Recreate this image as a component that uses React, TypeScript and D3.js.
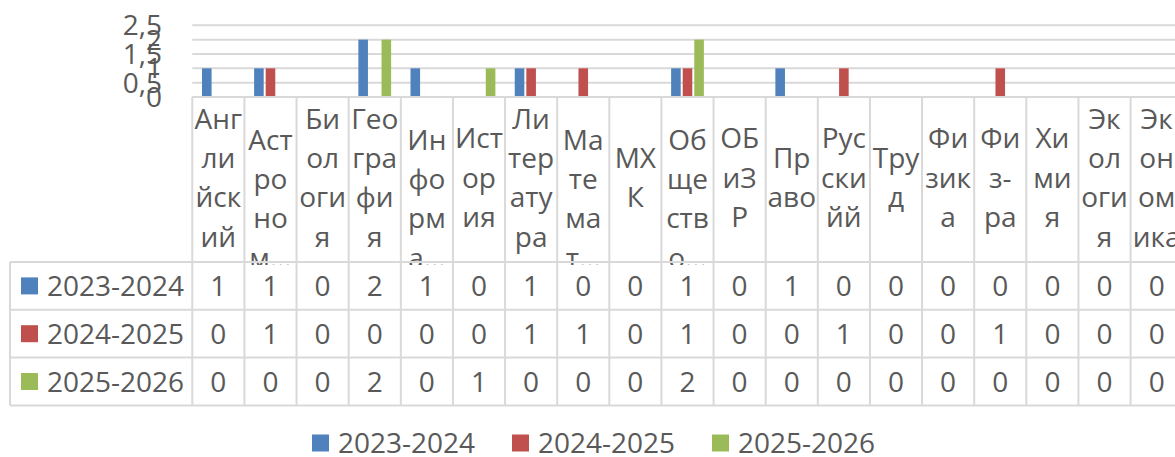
import React from "react";
import * as d3 from "d3";

const categories = [
  "Английский", "Астрономия", "Биология", "География", "Информатика", "История",
  "Литература", "Математика", "МХК", "Обществознание", "ОБиЗР", "Право",
  "Русский", "Труд", "Физика", "Физ-ра", "Химия", "Экология", "Экономика",
];
// label lines as displayed (wrapped / truncated like the reference)
const categoryLines = [
  ["Анг", "ли", "йск", "ий"],
  ["Аст", "ро", "но", "м…"],
  ["Би", "ол", "оги", "я"],
  ["Гео", "гра", "фи", "я"],
  ["Ин", "фо", "рм", "а…"],
  ["Ист", "ор", "ия"],
  ["Ли", "тер", "ату", "ра"],
  ["Ма", "те", "ма", "т…"],
  ["МХ", "К"],
  ["Об", "ще", "ств", "о…"],
  ["ОБ", "иЗ", "Р"],
  ["Пр", "аво"],
  ["Рус", "ски", "йй"],
  ["Тру", "д"],
  ["Фи", "зик", "а"],
  ["Фи", "з-", "ра"],
  ["Хи", "ми", "я"],
  ["Эк", "ол", "оги", "я"],
  ["Эк", "он", "ом", "ика"],
];
const seriesNames = ["2023-2024", "2024-2025", "2025-2026"];
const values2023 = [1, 1, 0, 2, 1, 0, 1, 0, 0, 1, 0, 1, 0, 0, 0, 0, 0, 0, 0];
const values2024 = [0, 1, 0, 0, 0, 0, 1, 1, 0, 1, 0, 0, 1, 0, 0, 1, 0, 0, 0];
const values2025 = [0, 0, 0, 2, 0, 1, 0, 0, 0, 2, 0, 0, 0, 0, 0, 0, 0, 0, 0];
const yTicks = [0, 0.5, 1, 1.5, 2, 2.5];
const colors = ["#4F81BD", "#C0504D", "#9BBB59"];

const seriesValues = [values2023, values2024, values2025];

const W = 1175;
const H = 457;
const FONT = "'Open Sans', sans-serif";
const FS = 28;
const TXT = "#595959";
const GRID = "#d9d9d9";

export default function App() {
  const plotLeft = 192.3;
  const plotRight = 1182.7;
  const axisY = 97;
  const topY = 25.3;
  const tableTop = 262;
  const rowH = 47.8;
  const tableLeft = 10;
  const tableBottom = tableTop + rowH * 3;

  const x0 = d3.scaleBand<string>().domain(categories).range([plotLeft, plotRight]).padding(0);
  const bw = x0.bandwidth();
  const x1 = d3.scaleBand<string>().domain(seriesNames).range([0, bw]).paddingInner(0).paddingOuter(0.75);
  const y = d3.scaleLinear().domain([0, 2.5]).range([axisY, topY]);

  const fmt = (v: number) => String(v).replace(".", ",");
  const lineH = 39.3;
  const headerMid = 177.5;

  return (
    <svg width={W} height={H} style={{ position: "absolute", left: 0, top: 0 }} fontFamily={FONT}>
      <defs>
        <clipPath id="hdrclip">
          <rect x={plotLeft} y={axisY} width={plotRight - plotLeft} height={tableTop + 3 - axisY} />
        </clipPath>
      </defs>
      <rect width={W} height={H} fill="#fff" />
      {/* gridlines */}
      {yTicks.map((t) => (
        <line key={"g" + t} x1={plotLeft} x2={plotRight} y1={y(t)} y2={y(t)} stroke={GRID} strokeWidth={2} />
      ))}
      {/* y tick labels */}
      {yTicks.map((t) => (
        <text key={"yl" + t} x={162} y={y(t)} dy="0.36em" textAnchor="end" fontSize={FS} fill={TXT}>
          {fmt(t)}
        </text>
      ))}
      {/* bars */}
      {seriesValues.map((vals, si) =>
        vals.map((v, ci) =>
          v > 0 ? (
            <rect
              key={`b${si}-${ci}`}
              x={(x0(categories[ci]) as number) + (x1(seriesNames[si]) as number) + 1}
              y={y(v)}
              width={x1.bandwidth() - 2}
              height={y(0) - y(v)}
              fill={colors[si]}
            />
          ) : null
        )
      )}
      {/* category labels */}
      <g clipPath="url(#hdrclip)">
        {categories.map((c, ci) => {
          const lines = categoryLines[ci];
          const truncated = lines[lines.length - 1].endsWith("…");
          const n = lines.length;
          const center = headerMid + (truncated ? lineH / 2 + 1.5 : 0);
          const cx = (x0(c) as number) + bw / 2;
          return lines.map((ln, li) => (
            <text
              key={`c${ci}-${li}`}
              x={cx}
              y={center + (li - (n - 1) / 2) * lineH}
              dy="0.36em"
              textAnchor="middle"
              fontSize={FS}
              fill={TXT}
            >
              {ln}
            </text>
          ));
        })}
      </g>
      {/* table grid */}
      {categories.map((c) => (
        <line key={"v" + c} x1={x0(c)} x2={x0(c)} y1={axisY} y2={tableBottom} stroke={GRID} strokeWidth={2} />
      ))}
      <line x1={plotRight} x2={plotRight} y1={axisY} y2={tableBottom} stroke={GRID} strokeWidth={2} />
      <line x1={tableLeft} x2={tableLeft} y1={tableTop} y2={tableBottom} stroke={GRID} strokeWidth={2} />
      {[0, 1, 2, 3].map((r) => (
        <line key={"h" + r} x1={tableLeft} x2={plotRight} y1={tableTop + r * rowH} y2={tableTop + r * rowH} stroke={GRID} strokeWidth={2} />
      ))}
      <line x1={plotLeft} x2={plotRight} y1={axisY} y2={axisY} stroke={GRID} strokeWidth={2} />
      {/* table rows */}
      {seriesNames.map((s, si) => {
        const cy = tableTop + rowH * si + rowH / 2;
        return (
          <g key={"row" + s}>
            <rect x={21} y={cy - 8.5} width={17} height={17} fill={colors[si]} />
            <text x={47} y={cy} dy="0.36em" fontSize={FS} fill={TXT}>
              {s}
            </text>
            {seriesValues[si].map((v, ci) => (
              <text
                key={`t${si}-${ci}`}
                x={(x0(categories[ci]) as number) + bw / 2}
                y={cy}
                dy="0.36em"
                textAnchor="middle"
                fontSize={FS}
                fill={TXT}
              >
                {v}
              </text>
            ))}
          </g>
        );
      })}
      {/* legend */}
      {seriesNames.map((s, si) => {
        const lx = 312 + si * 200;
        const ly = 443;
        return (
          <g key={"lg" + s}>
            <rect x={lx} y={ly - 8.5} width={17} height={17} fill={colors[si]} />
            <text x={lx + 26} y={ly} dy="0.36em" fontSize={FS} fill={TXT}>
              {s}
            </text>
          </g>
        );
      })}
    </svg>
  );
}
